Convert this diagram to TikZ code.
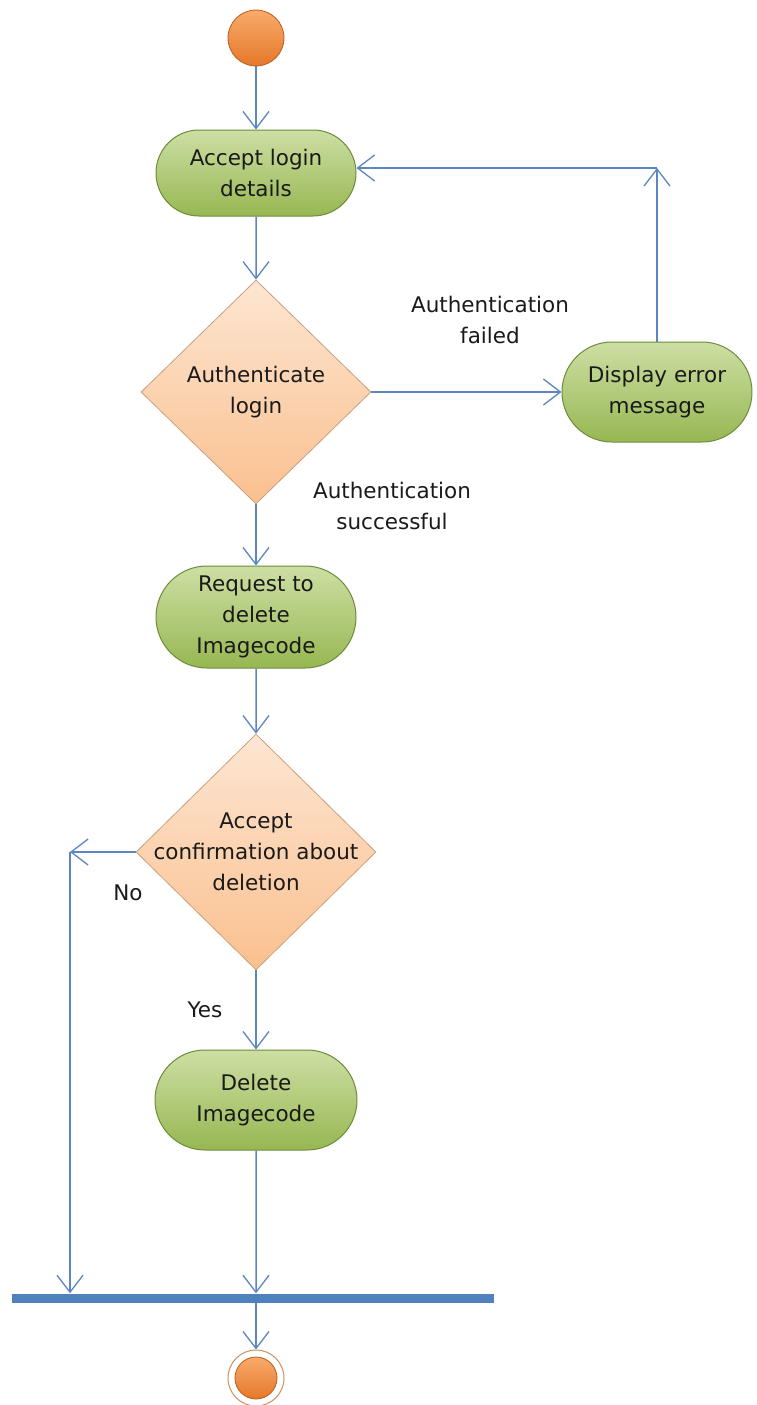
\documentclass[tikz,border=0pt]{standalone}
\usepackage{fontspec}
\setmainfont{DejaVu Sans}
\usetikzlibrary{shapes.geometric,shapes.misc,arrows.meta,calc}
\definecolor{arrowc}{HTML}{5B86BF}
\definecolor{barc}{HTML}{4F81BD}
\definecolor{gtop}{HTML}{CDDFA4}
\definecolor{gbot}{HTML}{97B752}
\definecolor{gdraw}{HTML}{6E8B3D}
\definecolor{ptop}{HTML}{FDE6D2}
\definecolor{pbot}{HTML}{FAC08F}
\definecolor{pdraw}{HTML}{C9A07E}
\definecolor{otop}{HTML}{F9AA6A}
\definecolor{obot}{HTML}{E5782A}
\definecolor{odraw}{HTML}{B4601F}
\definecolor{txtc}{HTML}{1A1A1A}
\begin{document}
\begin{tikzpicture}[x=1pt,y=-1pt,
  every node/.style={font=\fontsize{21.5}{31}\selectfont, text=txtc},
  action/.style={rounded rectangle, draw=gdraw, line width=1pt, top color=gtop, bottom color=gbot, align=center, inner sep=0pt},
  decision/.style={diamond, draw=pdraw, line width=0.8pt, top color=ptop, bottom color=pbot, inner sep=0pt},
  txt/.style={align=center, inner sep=0pt},
  flow/.style={draw=arrowc, line width=1.5pt, -{Straight Barb[length=17pt,width=26pt,line width=1.3pt]}},
  initial/.style={circle, draw=odraw, line width=0.8pt, top color=otop, bottom color=obot, inner sep=0pt, minimum size=56pt},
]
\useasboundingbox (0,0) rectangle (756,1405);

\node[initial] (start) at (256,38) {};
\node[action, minimum width=200pt, minimum height=86pt] (a1) at (256,173) {Accept login\\details};
\node[decision, minimum width=230pt, minimum height=224pt] (d1) at (256,392) {};
\node[txt] (d1t) at (256,392) {Authenticate\\login};
\node[action, minimum width=190pt, minimum height=100pt] (err) at (657,392) {Display error\\message};
\node[txt] (lfail) at (490,320) {Authentication\\failed};
\node[txt] (lsucc) at (392,506) {Authentication\\successful};
\node[action, minimum width=200pt, minimum height=102pt] (req) at (256,617) {Request to\\delete\\Imagecode};
\node[decision, minimum width=240pt, minimum height=236pt] (d2) at (256,852) {};
\node[txt] (d2t) at (256,852) {Accept\\confirmation about\\deletion};
\node[txt] (lno) at (128,893) {No};
\node[txt] (lyes) at (205,1010) {Yes};
\node[action, minimum width=202pt, minimum height=100pt] (del) at (256,1100) {Delete\\Imagecode};
\node[rectangle, fill=barc, inner sep=0pt, minimum width=482pt, minimum height=9pt] (bar) at (253,1298) {};
\node[circle, draw=odraw!70, fill=white, line width=1pt, inner sep=0pt, minimum size=56pt] (endo) at (256,1378) {};
\node[circle, draw=odraw, line width=0.8pt, top color=otop, bottom color=obot, inner sep=0pt, minimum size=42pt] (endi) at (256,1378) {};

\coordinate (c1) at (657,168);
\coordinate (c2) at (70,852);

\draw[flow] (start) -- (a1);
\draw[flow] (a1) -- (d1);
\draw[flow] (d1) -- (err);
\draw[flow] (err) -- (c1);
\draw[flow] (c1) -- (c1 -| a1.east);
\draw[flow] (d1) -- (req);
\draw[flow] (req) -- (d2);
\draw[flow] (d2) -- (c2);
\draw[flow] (c2) -- (c2 |- bar.north);
\draw[flow] (d2) -- (del);
\draw[flow] (del) -- (del |- bar.north);
\draw[flow] (bar.south -| endo) -- (endo);
\end{tikzpicture}
\end{document}
